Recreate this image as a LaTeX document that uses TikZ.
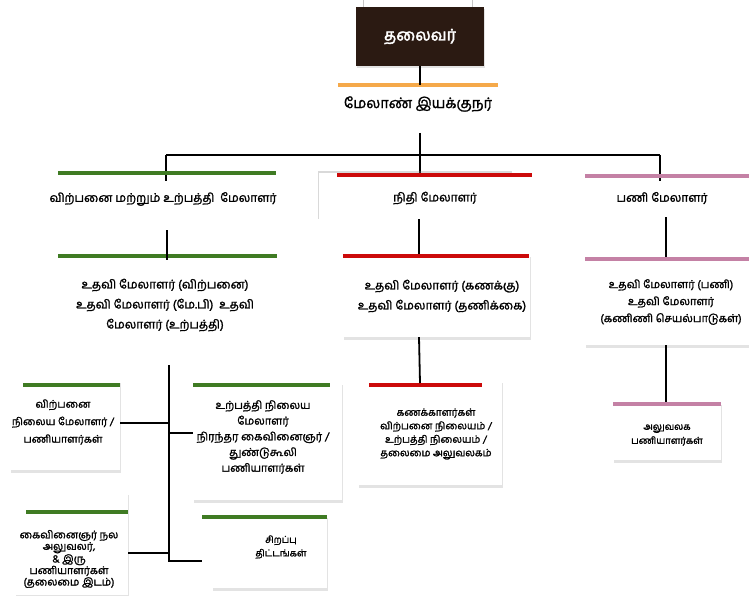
\documentclass[tikz,border=0pt]{standalone}
\usepackage{fontspec}
\setmainfont[Script=Tamil, FakeBold=1.6]{Hind Madurai}
\newfontfamily\headfont[Script=Tamil, FakeBold=2.5]{Hind Madurai}
\usetikzlibrary{positioning, shadows}
\definecolor{headbrown}{HTML}{2B1A12}
\definecolor{mdorange}{HTML}{F5A94A}
\definecolor{salesgreen}{HTML}{3F7B23}
\definecolor{finred}{HTML}{CC0A0A}
\definecolor{worpink}{HTML}{C481A5}

\tikzset{
  wire/.style={line width=1.8pt, black},
  bar/.style={line width=4pt},
  lbl/.style={font=\fontsize{12}{20}\selectfont, align=center, inner sep=0pt},
  small/.style={font=\fontsize{10}{13.5}\selectfont, align=center, inner sep=0pt},
  card/.style={rectangle, fill=white, inner sep=0pt,
    drop shadow={shadow xshift=0.6pt, shadow yshift=-2.5pt, opacity=0.22}},
}

\begin{document}
\begin{tikzpicture}[x=1pt, y=-1pt]
\useasboundingbox (0,0) rectangle (749,596);
% faint box above the chairman
\draw[gray!45, line width=0.6pt] (363,-10) rectangle (472,8);
% Chairman
\node[card, fill=headbrown, minimum width=128pt, minimum height=59pt,
  text=white, font=\fontsize{16}{18}\headfont] (head) at (420,36.5) {தலைவர்};
% Managing director
\coordinate (mdbarL) at (338,85);
\coordinate (mdbarR) at (498,85);
\draw[bar, mdorange] (mdbarL) -- (mdbarR);
\node[lbl, font=\fontsize{14.5}{18}\selectfont] (md) at (418,104) {மேலாண் இயக்குநர்};
\draw[wire] (head.south) -- (head.south |- mdbarL);
% Tree to the three managers
\coordinate (mdfoot) at (420,133);
\coordinate (treeM) at (420,155);
\coordinate (treeL) at (166,155);
\coordinate (treeR) at (660,155);
\draw[wire] (mdfoot) -- (treeM);
\draw[wire] (treeL) -- (treeR);
\draw[wire] (treeL) -- ++(0,26);
\draw[wire] (treeR) -- ++(0,26);
\draw[wire] (treeM) -- ++(0,18);

% Sales and production
\draw[bar, salesgreen] (58,173) -- (276,173);
\node[lbl] (sal1) at (163,199) {விற்பனை மற்றும் உற்பத்தி\ \ மேலாளர்};
\coordinate (sal1foot) at (167,230);
\draw[bar, salesgreen] (58,256) -- (277,256);
\draw[wire] (sal1foot) -- ++(0,30);
\node[lbl] (sal2) at (165,305) {உதவி மேலாளர் (விற்பனை)\\ உதவி மேலாளர் (மே.பி)\ \ உதவி\\ மேலாளர் (உற்பத்தி)};

% Finance
\node[rectangle, fill=white, minimum width=194pt, minimum height=47pt,
  drop shadow={shadow xshift=-1.5pt, shadow yshift=1.5pt, opacity=0.3}] (fin1box) at (416,196.5) {};
\draw[bar, finred] (337,175) -- (532,175);
\node[lbl] (fin1) at (435,198) {நிதி மேலாளர்};
\coordinate (fin1foot) at (419,219);
\node[card, minimum width=187pt, minimum height=83pt] (fin2box) at (436.5,295.5) {};
\draw[bar, finred] (fin2box.north west) ++(0,2) -- ++(186,0);
\draw[wire] (fin1foot) -- (fin1foot |- fin2box.north);
\node[lbl] (fin2) at (442,296) {உதவி மேலாளர் (கணக்கு)\\ உதவி மேலாளர் (தணிக்கை)};
\node[card, minimum width=144pt, minimum height=105pt] (fin3box) at (430,432.5) {};
\draw[bar, finred] (369,385) -- (482,385);
\draw[wire] (fin2box.south -| fin1foot) -- (420,383);
\node[small] (fin3) at (436,434) {கணக்காளர்கள்\\ விற்பனை நிலையம் /\\ உற்பத்தி நிலையம் /\\ தலைமை அலுவலகம்};

% Works
\draw[bar, worpink] (585,176) -- (749,176);
\node[lbl] (wor1) at (662,198) {பணி மேலாளர்};
\coordinate (wor1foot) at (666,217);
\node[card, minimum width=180pt, minimum height=88pt] (wor2box) at (675,301) {};
\draw[bar, worpink] (585,259) -- (749,259);
\draw[wire] (wor1foot) -- (wor1foot |- wor2box.north);
\node[lbl, font=\fontsize{11}{17}\selectfont] (wor2) at (671,302) {உதவி மேலாளர் (பணி)\\ உதவி மேலாளர்\\ (கணிணி செயல்பாடுகள்)};
\node[card, minimum width=108pt, minimum height=58pt] (wor3box) at (667,431) {};
\draw[bar, worpink] (wor3box.north west) ++(0,2) -- ++(108,0);
\draw[wire] (wor2box.south -| wor1foot) -- (wor3box.north -| wor1foot);
\node[small, font=\fontsize{9.5}{14}\selectfont] (wor3) at (667,435) {அலுவலக\\ பணியாளர்கள்};

% Sales and production staff
\coordinate (trunktop) at (169,365);
\coordinate (trunkbot) at (169,561);
\draw[wire] (trunktop) -- (trunkbot) -- (202,561);
\node[card, minimum width=110pt, minimum height=90pt] (b1box) at (65,425) {};
\draw[bar, salesgreen] (23,385) -- (120,385);
\node[small, font=\fontsize{10.5}{17.5}\selectfont] (b1) at (63,422) {விற்பனை\\ நிலைய மேலாளர் /\\ பணியாளர்கள்};
\draw[wire] (b1box.east |- 0,423) -- (trunktop |- 0,423);
\node[card, minimum width=113pt, minimum height=103pt] (b2box) at (71.5,543.5) {};
\draw[bar, salesgreen] (26,512) -- (128,512);
\node[small, font=\fontsize{10.5}{11.5}\selectfont] (b2) at (69,559) {கைவினைஞர் நல\\ அலுவலர்,\\ \& இரு\\ பணியாளர்கள்\\ (தலைமை இடம்)};
\draw[wire] (b2box.east |- 0,553) -- (trunktop |- 0,553);
\node[card, minimum width=149pt, minimum height=118pt] (b3box) at (267.5,441) {};
\draw[bar, salesgreen] (193,385) -- (330,385);
\node[small, font=\fontsize{11}{15.7}\selectfont] (b3) at (263,437) {உற்பத்தி நிலைய\\ மேலாளர்\\ நிரந்தர கைவினைஞர் /\\ துண்டுகூலி\\ பணியாளர்கள்};
\draw[wire] (trunktop |- 0,433) -- (b3box.west |- 0,433);
\node[card, minimum width=115pt, minimum height=73pt] (b4box) at (269.5,551.5) {};
\draw[bar, salesgreen] (202,517) -- (327,517);
\node[small, font=\fontsize{9.5}{13.5}\selectfont] (b4) at (281,547) {சிறப்பு\\ திட்டங்கள்};
\end{tikzpicture}
\end{document}
